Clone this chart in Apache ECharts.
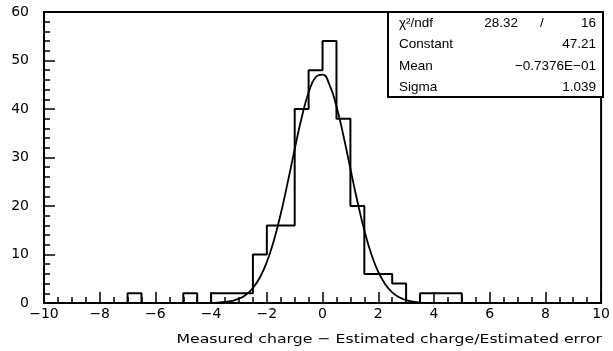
<!DOCTYPE html>
<html><head><meta charset="utf-8">
<script src="https://cdn.jsdelivr.net/npm/echarts@6/dist/echarts.min.js"></script>
<style>html,body{margin:0;padding:0;background:#fff}#c{width:613px;height:351px}</style>
</head><body><div id="c"></div>
<script>
// Histogram: 40 bins of width 0.5 from -10 to 10
const binLow = -10;
const binHigh = 10;
const binWidth = 0.5;
const counts = [0,0,0,0,0,0,2,0,0,0,
                2,0,2,2,2,10,16,16,40,48,
                54,38,20,6,6,4,0,2,2,2,
                0,0,0,0,0,0,0,0,0,0];
// Fitted gaussian curve
const fitX = [-4,-3.75,-3.5,-3.25,-3,-2.75,-2.5,-2.25,-2,-1.75,-1.5,-1.25,-1,-0.75,-0.5,-0.25,
              0,0.25,0.5,0.75,1,1.25,1.5,1.75,2,2.25,2.5,2.75,3,3.25,3.5];
const fitY = [0.04,0.09,0.21,0.44,0.89,1.71,3.09,5.26,8.46,12.85,18.40,24.88,31.73,38.20,43.40,46.54,
              47.09,44.97,40.53,34.48,27.67,20.97,14.99,10.11,6.44,3.87,2.20,1.18,0.59,0.28,0.13];
// Stats box
const statNames = ['χ²/ndf','Constant','Mean','Sigma'];
const chi2 = '28.32', ndf = '16';
const statValues = ['', '47.21', '−0.7376E−01', '1.039'];
const xTitle = 'Measured charge − Estimated charge/Estimated error';

const histPts = counts.map((c, i) => [binLow + i * binWidth, c]);
histPts.push([binHigh, 0]);
const fitPts = fitX.map((x, i) => [x, fitY[i]]);

const fmt = v => (v < 0 ? '−' + Math.abs(v) : String(v));
const boxFont = '13.5px "Liberation Sans", Arial, sans-serif';
const rowY = [23, 44.5, 66, 87.5];
const graphics = [
  {type:'rect', shape:{x:388, y:12, width:215, height:85}, style:{fill:'#fff', stroke:'#000', lineWidth:2}, z:10},
  {type:'text', x:602, y:340, scaleX:1.21, style:{text:xTitle, font:'13px "DejaVu Sans", sans-serif', fill:'#000', align:'right', verticalAlign:'middle'}, z:10}
];
statNames.forEach((n, i) => {
  graphics.push({type:'text', x:399, y:rowY[i], style:{text:n, font:boxFont, fill:'#000', align:'left', verticalAlign:'middle'}, z:11});
  if (statValues[i]) graphics.push({type:'text', x:596, y:rowY[i], style:{text:statValues[i], font:boxFont, fill:'#000', align:'right', verticalAlign:'middle'}, z:11});
});
graphics.push({type:'text', x:518, y:rowY[0], style:{text:chi2, font:boxFont, fill:'#000', align:'right', verticalAlign:'middle'}, z:11});
graphics.push({type:'text', x:542, y:rowY[0], style:{text:'/', font:boxFont, fill:'#000', align:'center', verticalAlign:'middle'}, z:11});
graphics.push({type:'text', x:596, y:rowY[0], style:{text:ndf, font:boxFont, fill:'#000', align:'right', verticalAlign:'middle'}, z:11});

const chart = echarts.init(document.getElementById('c'), null, {renderer:'canvas'});
const axisFont = {fontFamily:'"DejaVu Sans", sans-serif', fontSize:14, color:'#000'};
chart.setOption({
  animation:false,
  backgroundColor:'#fff',
  grid:{left:44, right:10, top:12, bottom:48, show:true, borderColor:'#000', borderWidth:2, backgroundColor:'transparent'},
  xAxis:{type:'value', min:-10, max:10, interval:2,
    axisLine:{onZero:false, lineStyle:{color:'#000', width:2}},
    axisTick:{inside:true, length:11, lineStyle:{color:'#000', width:1.5}},
    minorTick:{show:true, splitNumber:4, length:6, lineStyle:{color:'#000', width:1.5}},
    splitLine:{show:false}, minorSplitLine:{show:false},
    axisLabel:Object.assign({margin:4, formatter:fmt, showMinLabel:true, showMaxLabel:true}, axisFont)},
  yAxis:{type:'value', min:0, max:60, interval:10,
    axisLine:{show:true, onZero:false, lineStyle:{color:'#000', width:2}},
    axisTick:{show:true, inside:true, length:11, lineStyle:{color:'#000', width:1.5}},
    minorTick:{show:true, splitNumber:5, length:6, lineStyle:{color:'#000', width:1.5}},
    splitLine:{show:false}, minorSplitLine:{show:false},
    axisLabel:Object.assign({margin:15, formatter:fmt}, axisFont)},
  series:[
    {type:'line', data:histPts, step:'end', symbol:'none', lineStyle:{color:'#000', width:2}, z:3},
    {type:'line', data:fitPts, smooth:true, symbol:'none', lineStyle:{color:'#000', width:1.8}, z:4}
  ],
  graphic:graphics
});
</script></body></html>
